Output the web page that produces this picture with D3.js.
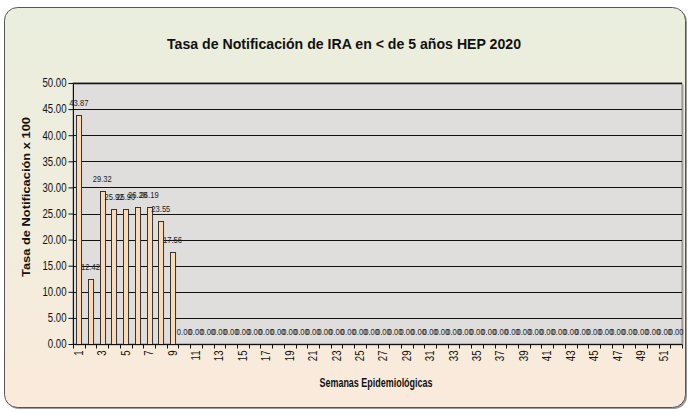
<!DOCTYPE html>
<html><head><meta charset="utf-8">
<script src="https://cdn.jsdelivr.net/npm/d3@7"></script>
<style>
html,body{margin:0;padding:0;background:#fff;}
svg{display:block;}
text{font-family:"Liberation Sans",Arial,sans-serif;fill:#111;}
</style></head>
<body>
<svg id="c" width="688" height="412"></svg>
<script>
const title = "Tasa de Notificación de IRA en < de 5 años HEP 2020";
const xTitle = "Semanas Epidemiológicas";
const yTitle = "Tasa de Notificación x 100";
const weeks = d3.range(1, 53);
const values = [43.87, 12.42, 29.32, 25.92, 25.90, 26.28, 26.19, 23.55, 17.56,
  0,0,0,0,0,0,0,0,0,0, 0,0,0,0,0,0,0,0,0,0, 0,0,0,0,0,0,0,0,0,0, 0,0,0,0,0,0,0,0,0,0, 0,0,0];
const yTicks = [0,5,10,15,20,25,30,35,40,45,50];

const SX = 0.8; // narrow-font emulation

const svg = d3.select("#c");
const defs = svg.append("defs");
const g1 = defs.append("linearGradient").attr("id","bg").attr("x1",0).attr("y1",0).attr("x2",0).attr("y2",1);
g1.append("stop").attr("offset","0%").attr("stop-color","#eaeedd");
g1.append("stop").attr("offset","55%").attr("stop-color","#f1eddd");
g1.append("stop").attr("offset","100%").attr("stop-color","#fbeadb");

// outer frame
svg.append("rect").attr("x",6).attr("y",9).attr("width",681).attr("height",400).attr("rx",13)
  .attr("fill","#9a9a9a");
svg.append("rect").attr("x",4.5).attr("y",7.5).attr("width",681).attr("height",400).attr("rx",13)
  .attr("fill","url(#bg)").attr("stroke","#555").attr("stroke-width",1);

const m = {l:73, r:682, t:83, b:344};
const x = d3.scaleBand().domain(weeks).range([m.l, m.r]).paddingInner(0.57).paddingOuter(0.285);
const xb = d3.scaleBand().domain(weeks).range([m.l, m.r]);
const y = d3.scaleLinear().domain([0,50]).range([m.b, m.t]);

// plot area
svg.append("rect").attr("x",m.l+1.5).attr("y",m.t+1.5).attr("width",m.r-m.l).attr("height",m.b-m.t)
  .attr("fill","#a8a8a8");
svg.append("rect").attr("x",m.l).attr("y",m.t).attr("width",m.r-m.l).attr("height",m.b-m.t)
  .attr("fill","#e0dedc").attr("stroke","#8a8a8a").attr("stroke-width",1);

// gridlines
svg.append("g").selectAll("line").data(yTicks.filter(d=>d>0)).join("line")
  .attr("x1",m.l).attr("x2",m.r).attr("y1",d=>Math.round(y(d))+0.5).attr("y2",d=>Math.round(y(d))+0.5)
  .attr("stroke","#111").attr("stroke-width",d=>d===50?1.6:1.1);

// bars
svg.append("g").selectAll("rect").data(values).join("rect")
  .attr("x",(d,i)=>Math.round(x(weeks[i]))+0.5)
  .attr("y",d=>Math.round(y(d))+0.5)
  .attr("width",x.bandwidth())
  .attr("height",d=>Math.max(0, m.b - Math.round(y(d))))
  .attr("fill","#fdd8b4").attr("stroke","#333").attr("stroke-width",1)
  .attr("display",d=>d>0?null:"none");

// data labels
svg.append("g").selectAll("text").data(values).join("text")
  .attr("transform",(d,i)=>`translate(${x(weeks[i])+x.bandwidth()/2},${y(d)-9}) scale(${SX},1)`)
  .attr("text-anchor","middle")
  .attr("font-size","9.5px")
  .style("fill","#222")
  .text(d=>d.toFixed(2));

// y axis
const ya = svg.append("g").attr("transform",`translate(${m.l+0.5},0)`)
  .call(d3.axisLeft(y).tickValues(yTicks).tickFormat(d3.format(".2f")).tickSize(5).tickPadding(3));
ya.select(".domain").attr("stroke","#111").attr("d",`M0,${m.t}V${m.b}`);
ya.selectAll(".tick line").attr("stroke","#111");
ya.selectAll(".tick text").attr("font-size","12px").style("font-family",null)
  .attr("x",null).attr("transform",`translate(-7,0) scale(${SX},1)`).style("fill","#111");

// x axis
const xa = svg.append("g").attr("transform",`translate(0,${m.b+0.5})`);
xa.append("line").attr("x1",m.l).attr("x2",m.r).attr("stroke","#111").attr("stroke-width",1.2);
xa.selectAll("line.tk").data(weeks.concat([53])).join("line").attr("class","tk")
  .attr("x1",(d,i)=>Math.round(m.l + i*xb.step())+0.5).attr("x2",(d,i)=>Math.round(m.l + i*xb.step())+0.5)
  .attr("y1",0).attr("y2",4).attr("stroke","#111");
xa.selectAll("text").data(weeks.filter(d=>d%2===1)).join("text")
  .attr("transform",d=>`translate(${xb(d)+xb.bandwidth()/2+4},6) rotate(-90) scale(${SX},1)`)
  .attr("text-anchor","end")
  .attr("font-size","12px")
  .text(d=>d);

// titles
svg.append("text").attr("x",344).attr("y",49).attr("text-anchor","middle")
  .attr("font-size","15.5px").attr("font-weight","bold")
  .attr("textLength",354).attr("lengthAdjust","spacingAndGlyphs").text(title);
svg.append("text").attr("x",376).attr("y",387).attr("text-anchor","middle")
  .attr("font-size","12px").attr("font-weight","bold")
  .attr("textLength",113).attr("lengthAdjust","spacingAndGlyphs").text(xTitle);
svg.append("text").attr("transform","translate(30,197) rotate(-90)").attr("text-anchor","middle")
  .attr("font-size","11.5px").attr("font-weight","bold")
  .attr("textLength",160).attr("lengthAdjust","spacingAndGlyphs").text(yTitle);
</script>
</body></html>
